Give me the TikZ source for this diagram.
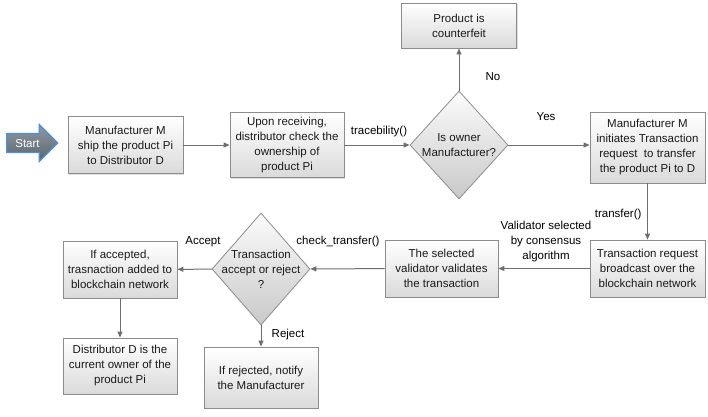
\documentclass[tikz,border=0pt]{standalone}
\usepackage{fontspec}
\setmainfont{Liberation Sans}
\usetikzlibrary{shapes.geometric, shapes.arrows, arrows.meta, shadows}
\definecolor{boxline}{HTML}{8C8C8C}
\definecolor{boxlow}{HTML}{DADADA}
\definecolor{flow}{HTML}{6E6E6E}
\definecolor{startfill}{HTML}{6A7784}
\definecolor{startline}{HTML}{4F8FD8}
\definecolor{txt}{HTML}{1A1A1A}

\begin{document}
\begin{tikzpicture}[x=1pt, y=-1pt,
    every node/.style={font=\fontsize{11.5}{15}\selectfont, text=txt},
    process/.style={rectangle, draw=boxline, line width=0.8pt, top color=white, bottom color=boxlow,
      align=center, minimum width=115pt, minimum height=57pt, inner sep=2pt,
      drop shadow={shadow xshift=1.2pt, shadow yshift=-1.2pt, opacity=0.25}},
    decision/.style={diamond, draw=boxline, line width=0.8pt, top color=white!90!boxlow,
      bottom color=boxlow!92!black, minimum width=98pt, minimum height=108pt, inner sep=0pt},
    startarrow/.style={single arrow, draw=startline, line width=1.2pt, top color=startfill!75!white,
      bottom color=startfill!85!black, text=white, minimum height=51pt,
      single arrow head extend=9pt, text height=8pt, text depth=0pt, inner ysep=5pt, inner xsep=2pt},
    flowline/.style={draw=flow, line width=1pt, -{Triangle[length=6pt, width=5pt]}},
    flowlabel/.style={text=black}
]
    \useasboundingbox (0,0) rectangle (708,416);

    % Nodes
    \node[startarrow] (Start) at (27.5, 143) {Start};
    \node[process] (Ship) at (125.5, 145) {Manufacturer M\\ship the product Pi\\to Distributor D};
    \node[process, minimum width=114pt, minimum height=65pt] (Check) at (287, 145) {Upon receiving,\\distributor check the\\ownership of\\product Pi};
    \node[decision, label={[align=center]center:Is owner\\Manufacturer?}] (IsOwner) at (459, 145) {};
    \node[process, minimum height=45pt] (Fake) at (459, 25.5) {Product is\\counterfeit};
    \node[process, minimum height=71pt] (Init) at (647.5, 147.5) {Manufacturer M\\initiates Transaction\\request\ \ to transfer\\the product Pi to D};

    \node[process] (Bcast) at (647.5, 268.5) {Transaction request\\broadcast over the\\blockchain network};
    \node[process, minimum width=113pt] (Valid) at (441.5, 268.5) {The selected\\validator validates\\the transaction};
    \node[decision, minimum height=112pt, label={[align=center]center:Transaction\\accept or reject\\?}] (Decide) at (261, 269) {};
    \node[process, minimum width=114pt] (Added) at (120, 269.5) {If accepted,\\trasnaction added to\\blockchain network};
    \node[process, minimum width=114pt, minimum height=56pt] (Current) at (120, 366) {Distributor D is the\\current owner of the\\product Pi};
    \node[process, minimum width=114pt, minimum height=61pt] (Rejected) at (261, 377.5) {If rejected, notify\\the Manufacturer};

    % Connector labels
    \node[flowlabel] (lTrace) at (379, 132) {tracebility()};
    \node[flowlabel] (lNo) at (493, 77) {No};
    \node[flowlabel] (lYes) at (546, 117) {Yes};
    \node[flowlabel, anchor=east] (lTransfer) at (645, 215) {transfer()};
    \node[flowlabel, align=center] (lValid) at (546, 242) {Validator selected\\by consensus\\algorithm};
    \node[flowlabel] (lCheck) at (338, 242) {check\_transfer()};
    \node[flowlabel] (lAccept) at (203, 242) {Accept};
    \node[flowlabel] (lReject) at (288, 335) {Reject};

    % Arrows
    \draw[flowline] (Ship) -- (Check);
    \draw[flowline] (Check) -- (IsOwner);
    \draw[flowline] (IsOwner) -- (Fake);
    \draw[flowline] (IsOwner.east) -- (IsOwner.east -| Init.west);
    \draw[flowline] (Init) -- (Bcast);
    \draw[flowline] (Bcast) -- (Valid);
    \draw[flowline] (Valid) -- (Decide);
    \draw[flowline] (Decide) -- (Added);
    \draw[flowline] (Added) -- (Current);
    \draw[flowline] (Decide) -- (Rejected);
\end{tikzpicture}
\end{document}
